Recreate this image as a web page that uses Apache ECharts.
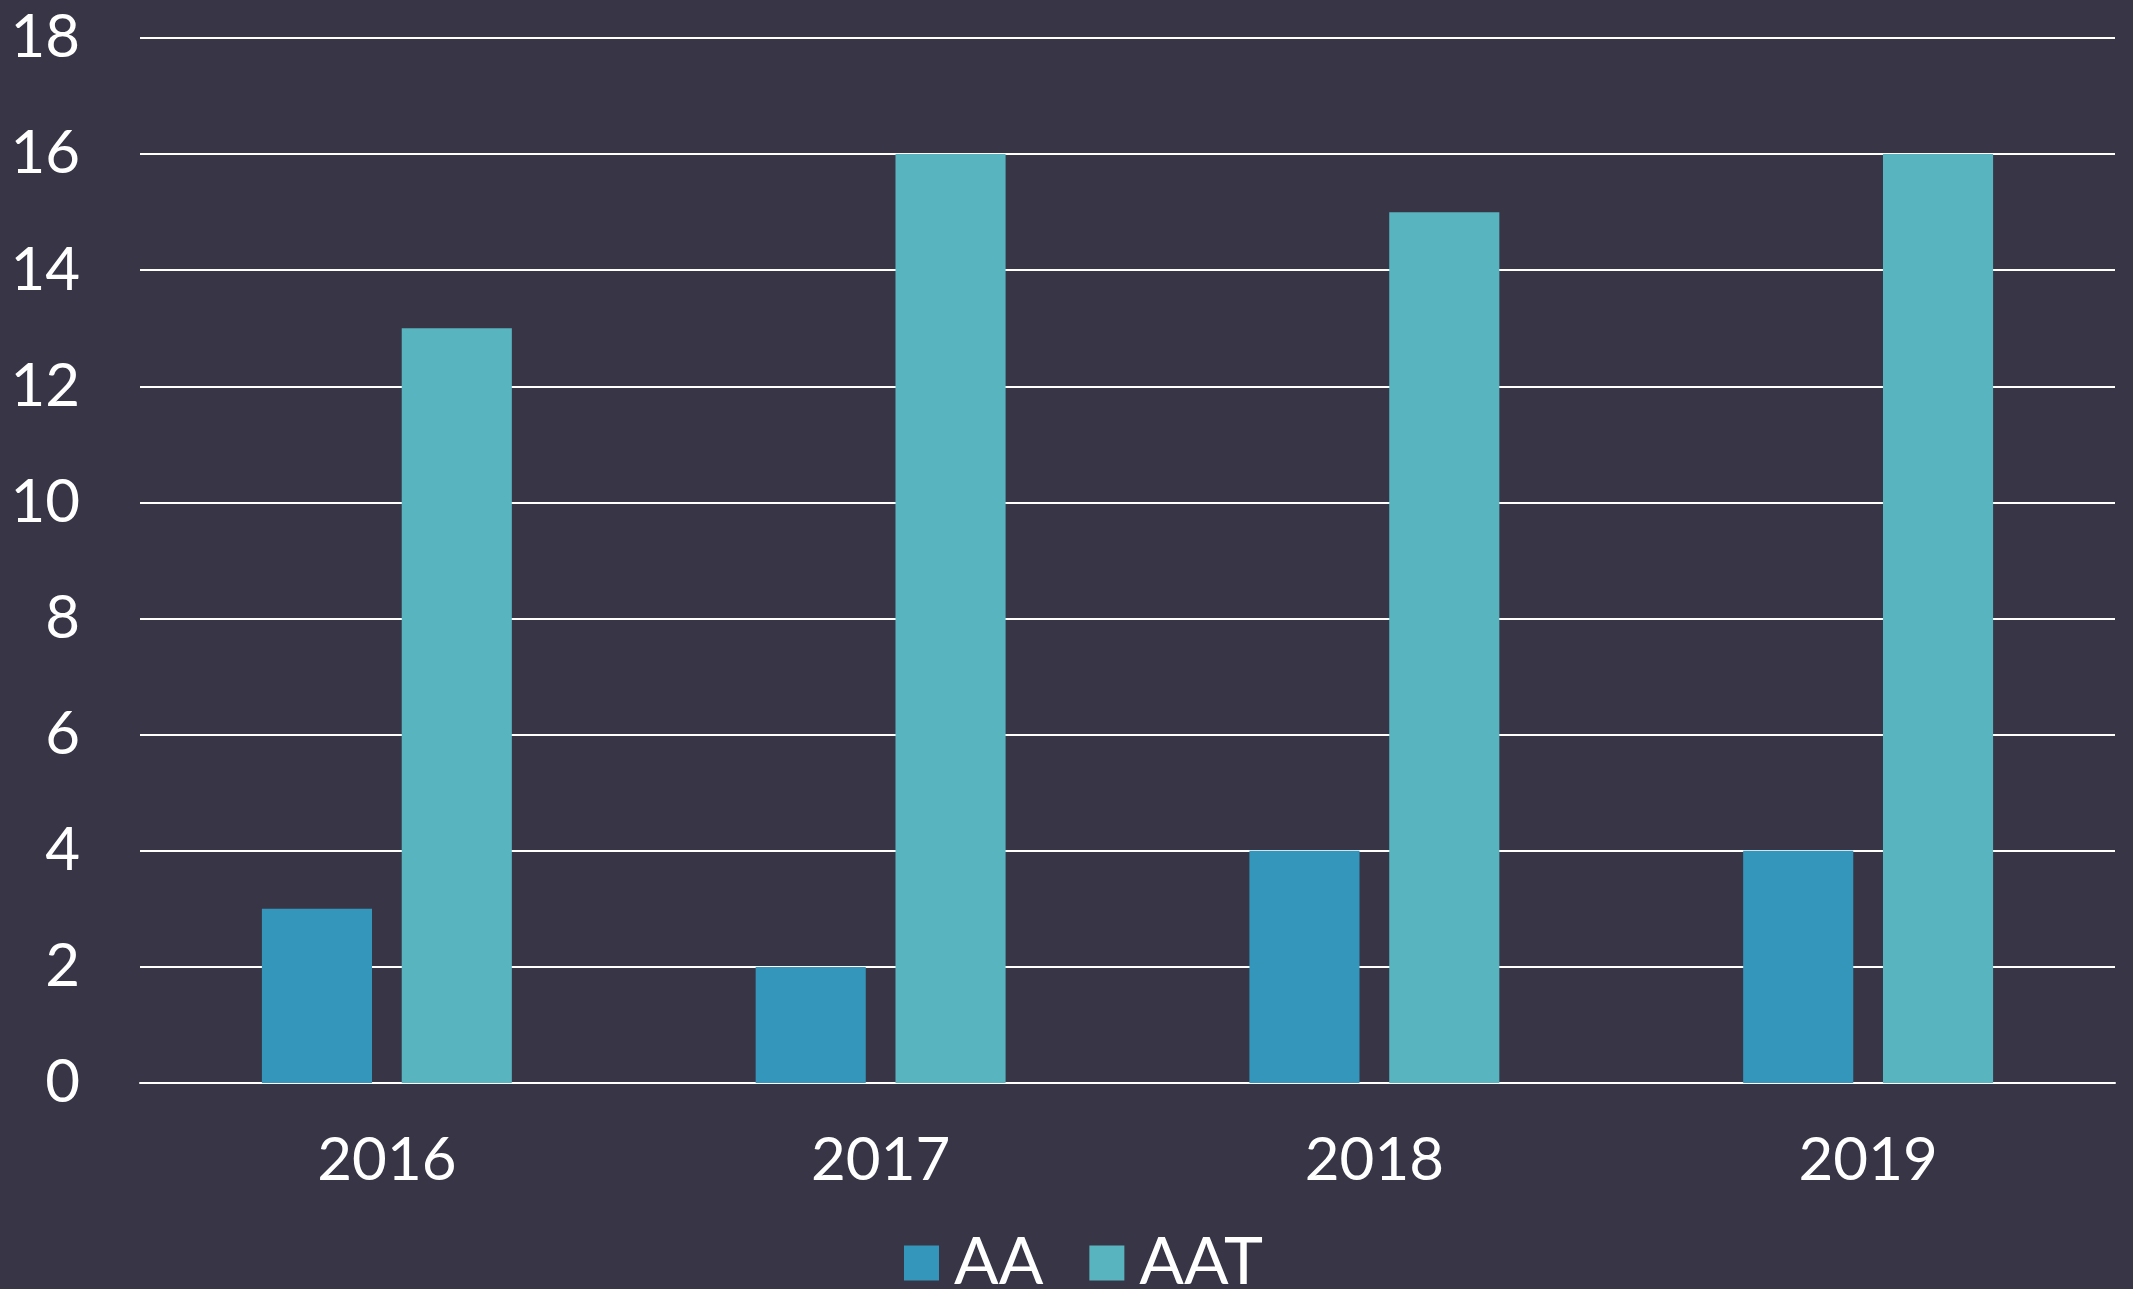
<!DOCTYPE html>
<html>
<head>
<meta charset="utf-8">
<title>AA vs AAT</title>
<script src="https://cdn.jsdelivr.net/npm/echarts@6/dist/echarts.min.js"></script>
<style>
  html, body { margin: 0; padding: 0; background: #383547; }
  #chart { width: 2133px; height: 1289px; }
</style>
</head>
<body>
<div id="chart"></div>
<script>
const years = ['2016', '2017', '2018', '2019']
const aaValues = [3, 2, 4, 4]
const aatValues = [13, 16, 15, 16]
const yTicks = { min: 0, max: 18, interval: 2 }

const textFont = 'Lato, "Noto Sans", sans-serif'

const chart = echarts.init(document.getElementById('chart'))

chart.setOption({
  backgroundColor: '#383547',
  animation: false,
  color: ['#3596bb', '#58b5c0'],
  grid: {
    left: 140,
    right: 18,
    top: 38,
    bottom: 206
  },
  legend: {
    data: ['AA', 'AAT'],
    bottom: -12,
    left: 899,
    itemWidth: 35,
    itemHeight: 35,
    itemGap: 46,
    icon: 'rect',
    textStyle: {
      color: '#ffffff',
      fontSize: 66,
      fontFamily: textFont,
      padding: [0, 0, 0, 10]
    }
  },
  xAxis: {
    type: 'category',
    data: years,
    axisLine: { show: true, lineStyle: { color: '#ffffff', width: 2 } },
    axisTick: { show: false },
    axisLabel: {
      color: '#ffffff',
      fontSize: 60,
      fontFamily: textFont,
      margin: 48
    }
  },
  yAxis: {
    type: 'value',
    min: yTicks.min,
    max: yTicks.max,
    interval: yTicks.interval,
    axisLine: { show: false },
    axisTick: { show: false },
    splitLine: { lineStyle: { color: '#ffffff', width: 2 } },
    axisLabel: {
      color: '#ffffff',
      fontSize: 60,
      fontFamily: textFont,
      margin: 60
    }
  },
  series: [
    {
      name: 'AA',
      type: 'bar',
      data: aaValues,
      barWidth: '22.3%',
      barGap: '27%'
    },
    {
      name: 'AAT',
      type: 'bar',
      data: aatValues,
      barWidth: '22.3%',
      barGap: '27%'
    }
  ]
})
</script>
</body>
</html>
